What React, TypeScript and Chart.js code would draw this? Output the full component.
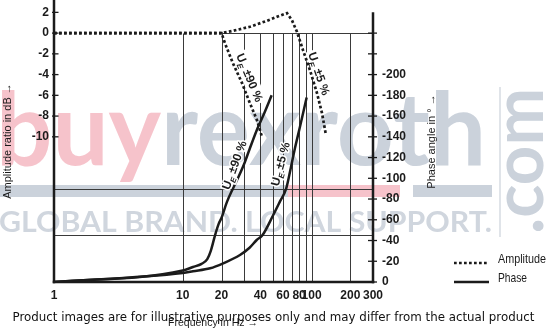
import React, { useEffect, useRef } from "react";
import { Chart, registerables } from "chart.js";

Chart.register(...registerables);

// ---------- data ----------
const freqTickLabels = [1, 10, 20, 40, 60, 80, 100, 200, 300];
const freqGridLines = [10, 20, 30, 40, 50, 60, 70, 80, 90, 100, 200];
const dbTicks = [-10, -8, -6, -4, -2, 0, 2];
const phaseTicks = [0, 20, 40, 60, 80, 100, 120, 140, 160, 180, 200, 220, 240];
const phaseLabelMax = 200;
const phaseGridLines = [45, 90];

// amplitude ratio (dB), U_E ±90 %
const ampFreq90 = [1, 20, 21.3, 24.5, 28.8, 33.2, 37.7, 41.2];
const ampDb90 = [0, 0, -1, -2.9, -4.8, -6.75, -8.4, -10];
// amplitude ratio (dB), U_E ±5 %
const ampFreq5 = [1, 20, 24.5, 33.2, 45.1, 53.9, 64.4, 70.4, 77, 85.8, 97.2, 110.2, 120.5, 129.4];
const ampDb5 = [0, 0, 0.22, 0.61, 1.19, 1.57, 1.93, 1.25, 0.13, -1.64, -3.57, -5.79, -7.71, -9.84];
// phase angle (deg), U_E ±90 %
const phFreq90 = [1, 10, 12, 14, 15.5, 16.5, 17.8, 19, 20, 22, 24.5, 27, 30, 33, 38, 43, 49];
const phDeg90 = [0, 11, 14.5, 17.5, 22, 30, 45, 56, 62, 77, 90, 101, 114, 128, 148, 163, 180];
// phase angle (deg), U_E ±5 %
const phFreq5 = [1, 10, 12, 16.3, 20.6, 27.8, 33, 37.5, 41.5, 50.4, 57, 63.5, 69, 74.3, 81.3, 91.6];
const phDeg5 = [0, 8.7, 10.3, 13.2, 18, 26, 33, 40.5, 45, 64.6, 78, 90, 110, 129, 149.7, 178];

// curve annotations (anchored in data units)
const ampLabels = [
  { f: 33.2, v: -4.28, deg: 67, pct: "90" },
  { f: 115, v: -3.9, deg: 71, pct: "5" },
];
const phaseLabels = [
  { f: 25.0, v: 112.8, deg: -70, pct: "90" },
  { f: 56.9, v: 113.8, deg: -75, pct: "5" },
];

// ---------- styles ----------
const INK = "#1b1b1b";
const GRID = "#3a3a3a";
const SANS = '"Liberation Sans", Arial, "DejaVu Sans", sans-serif';
const WM_FONT = 'Lato, "Open Sans", "DejaVu Sans", sans-serif';
const WM_PINK = "#f6c3cb";
const WM_GRAY = "#cbd2db";
const WM_GRAY2 = "#d0d6de";
const DASH = [2.7, 2.3];

function line(ctx: CanvasRenderingContext2D, x1: number, y1: number, x2: number, y2: number) {
  ctx.beginPath();
  ctx.moveTo(x1, y1);
  ctx.lineTo(x2, y2);
  ctx.stroke();
}

function drawWatermark(ctx: CanvasRenderingContext2D) {
  ctx.save();
  // bands
  ctx.fillStyle = WM_GRAY;
  ctx.fillRect(0, 185, 288, 12);
  ctx.fillStyle = WM_PINK;
  ctx.fillRect(288, 185, 112, 12);
  ctx.fillStyle = WM_GRAY;
  ctx.fillRect(413, 185, 79, 12);
  ctx.textAlign = "left";
  ctx.textBaseline = "alphabetic";
  // buyrexroth
  ctx.font = `bold 102px ${WM_FONT}`;
  const wBuy = ctx.measureText("buy").width;
  const wAll = ctx.measureText("buyrexroth").width;
  ctx.save();
  ctx.translate(-4, 165);
  ctx.scale(490 / wAll, 1);
  ctx.fillStyle = WM_PINK;
  ctx.fillText("buy", 0, 0);
  ctx.fillStyle = WM_GRAY;
  ctx.fillText("rexroth", wBuy, 0);
  ctx.restore();
  // slogan
  ctx.font = `bold 28px ${WM_FONT}`;
  const wS = ctx.measureText("GLOBAL BRAND. LOCAL SUPPORT.").width;
  ctx.save();
  ctx.translate(-1, 232);
  ctx.scale(493 / wS, 1);
  ctx.fillStyle = WM_GRAY2;
  ctx.fillText("GLOBAL BRAND. LOCAL SUPPORT.", 0, 0);
  ctx.restore();
  // separator
  ctx.strokeStyle = "#d6dbe2";
  ctx.lineWidth = 1.5;
  line(ctx, 500, 87, 500, 237);
  // .com vertical
  ctx.font = `bold 70px ${WM_FONT}`;
  const wC = ctx.measureText(".com").width;
  ctx.save();
  ctx.translate(543, 234);
  ctx.rotate(-Math.PI / 2);
  ctx.scale(146 / wC, 1);
  ctx.fillStyle = WM_GRAY;
  ctx.fillText(".com", 0, 0);
  ctx.restore();
  ctx.restore();
}

function drawUE(
  ctx: CanvasRenderingContext2D,
  cx: number,
  cy: number,
  deg: number,
  pct: string,
  mode: "box" | "halo"
) {
  ctx.save();
  ctx.translate(cx, cy);
  ctx.rotate((deg * Math.PI) / 180);
  const big = `bold 12px ${SANS}`;
  const small = `bold italic 8px ${SANS}`;
  const rest = ` \u00b1${pct} %`;
  ctx.font = big;
  const wU = ctx.measureText("U").width;
  const wR = ctx.measureText(rest).width;
  ctx.font = small;
  const wE = ctx.measureText("E").width;
  const total = wU + wE + wR;
  const x0 = -total / 2;
  if (mode === "box") {
    ctx.fillStyle = "#fff";
    ctx.fillRect(x0 - 2, -7, total + 4, 15);
  }
  ctx.textAlign = "left";
  ctx.textBaseline = "alphabetic";
  const parts: [string, string, number, number][] = [
    ["U", big, x0, 4.3],
    ["E", small, x0 + wU, 7.3],
    [rest, big, x0 + wU + wE, 4.3],
  ];
  if (mode === "halo") {
    ctx.strokeStyle = "#fff";
    ctx.lineWidth = 3;
    ctx.lineJoin = "round";
    for (const [t, f, x, y] of parts) {
      ctx.font = f;
      ctx.strokeText(t, x, y);
    }
  }
  ctx.fillStyle = INK;
  for (const [t, f, x, y] of parts) {
    ctx.font = f;
    ctx.fillText(t, x, y);
  }
  ctx.restore();
}

function fitText(ctx: CanvasRenderingContext2D, text: string, x: number, y: number, width: number) {
  const w = ctx.measureText(text).width;
  ctx.save();
  ctx.translate(x, y);
  ctx.scale(Math.min(1, width / w), 1);
  ctx.fillText(text, 0, 0);
  ctx.restore();
}

const decor = {
  id: "decor",
  beforeDraw(chart: any) {
    const ctx: CanvasRenderingContext2D = chart.ctx;
    ctx.save();
    ctx.fillStyle = "#fff";
    ctx.fillRect(0, 0, chart.width, chart.height);
    ctx.restore();
    drawWatermark(ctx);
  },
  beforeDatasetsDraw(chart: any) {
    const ctx: CanvasRenderingContext2D = chart.ctx;
    const { x, y, y2 } = chart.scales;
    const y0 = Math.round(y.getPixelForValue(0)) + 0.5;
    const yb = y.getPixelForValue(y.min);
    ctx.save();
    ctx.strokeStyle = GRID;
    ctx.lineWidth = 1;
    for (const f of freqGridLines) {
      const px = Math.round(x.getPixelForValue(f)) + 0.5;
      line(ctx, px, y0, px, yb);
    }
    line(ctx, x.getPixelForValue(20), y0, x.right, y0);
    for (const p of phaseGridLines) {
      const py = Math.round(y2.getPixelForValue(p)) + 0.5;
      line(ctx, x.left, py, x.right, py);
    }
    for (const l of ampLabels) {
      drawUE(ctx, x.getPixelForValue(l.f), y.getPixelForValue(l.v), l.deg, l.pct, "box");
    }
    // axes
    ctx.strokeStyle = INK;
    ctx.lineWidth = 2.5;
    line(ctx, x.left, 0, x.left, yb + 1.25);
    line(ctx, x.left - 1.25, yb, x.right + 1.25, yb);
    line(ctx, x.right, y2.getPixelForValue(260), x.right, yb + 1.25);
    // tick marks
    ctx.lineWidth = 1.3;
    for (const v of dbTicks) {
      const py = y.getPixelForValue(v);
      line(ctx, x.left - 2, py, x.left + 4.5, py);
    }
    for (const v of phaseTicks) {
      const py = y2.getPixelForValue(v);
      line(ctx, x.right - 5, py, x.right + 4, py);
    }
    ctx.restore();
  },
  afterDatasetsDraw(chart: any) {
    const ctx: CanvasRenderingContext2D = chart.ctx;
    const { x, y2 } = chart.scales;
    ctx.save();
    for (const l of phaseLabels) {
      drawUE(ctx, x.getPixelForValue(l.f), y2.getPixelForValue(l.v), l.deg, l.pct, "halo");
    }
    // legend
    const ds = chart.data.datasets;
    ctx.strokeStyle = INK;
    ctx.lineWidth = ds[0].borderWidth;
    ctx.setLineDash(ds[0].borderDash);
    line(ctx, 454, 263, 489, 263);
    ctx.setLineDash([]);
    ctx.lineWidth = ds[2].borderWidth;
    line(ctx, 454, 282, 489, 282);
    ctx.fillStyle = INK;
    ctx.textAlign = "left";
    ctx.textBaseline = "middle";
    ctx.font = `13px ${SANS}`;
    fitText(ctx, ds[0].label, 498, 259.5, 48);
    fitText(ctx, ds[2].label, 498, 278.5, 29);
    // axis titles
    ctx.font = `11px ${SANS}`;
    ctx.textAlign = "center";
    ctx.save();
    ctx.translate(7.5, 141);
    ctx.rotate(-Math.PI / 2);
    ctx.fillText("Amplitude ratio in dB \u2192", 0, 0);
    ctx.restore();
    ctx.save();
    ctx.translate(432, 141.5);
    ctx.rotate(-Math.PI / 2);
    ctx.fillText("Phase angle in \u00b0 \u2192", 0, 0);
    ctx.restore();
    ctx.textBaseline = "alphabetic";
    ctx.font = `10.5px ${SANS}`;
    ctx.fillText("Frequency in Hz \u2192", 213, 326);
    // footer
    const footer = "Product images are for illustrative purposes only and may differ from the actual product";
    ctx.font = `11px "DejaVu Sans", sans-serif`;
    const w = ctx.measureText(footer).width;
    const size = (11 * 522) / w;
    ctx.font = `${size.toFixed(2)}px "DejaVu Sans", sans-serif`;
    ctx.textAlign = "left";
    ctx.fillStyle = "#111";
    ctx.fillText(footer, 12.5, 320.7);
    ctx.restore();
  },
};

const zeroPad = (s: any) => {
  s.paddingTop = 0;
  s.paddingBottom = 0;
  s.paddingLeft = 0;
  s.paddingRight = 0;
};

const tickFont = { family: SANS, size: 12, weight: "bold" as const };

export default function App() {
  const ref = useRef<HTMLCanvasElement | null>(null);
  useEffect(() => {
    if (!ref.current) return;
    const pts = (fs: number[], vs: number[]) => fs.map((f, i) => ({ x: f, y: vs[i] }));
    const chart = new Chart(ref.current, {
      type: "line",
      data: {
        datasets: [
          {
            label: "Amplitude",
            data: pts(ampFreq90, ampDb90),
            yAxisID: "y",
            borderColor: INK,
            borderWidth: 2.7,
            borderDash: DASH,
            pointRadius: 0,
            tension: 0,
          },
          {
            label: "Amplitude",
            data: pts(ampFreq5, ampDb5),
            yAxisID: "y",
            borderColor: INK,
            borderWidth: 2.7,
            borderDash: DASH,
            pointRadius: 0,
            tension: 0,
          },
          {
            label: "Phase",
            data: pts(phFreq90, phDeg90),
            yAxisID: "y2",
            borderColor: INK,
            borderWidth: 2.5,
            pointRadius: 0,
            cubicInterpolationMode: "monotone",
          },
          {
            label: "Phase",
            data: pts(phFreq5, phDeg5),
            yAxisID: "y2",
            borderColor: INK,
            borderWidth: 2.5,
            pointRadius: 0,
            cubicInterpolationMode: "monotone",
          },
        ],
      },
      options: {
        animation: false,
        responsive: false,
        devicePixelRatio: 1,
        layout: { padding: { top: 2, left: 0, right: 0, bottom: 0 } },
        plugins: { legend: { display: false }, tooltip: { enabled: false } },
        scales: {
          x: {
            type: "logarithmic",
            min: 1,
            max: 300,
            grid: { display: false, drawTicks: false },
            border: { display: false },
            afterBuildTicks: (s: any) => {
              s.ticks = freqTickLabels.map((v) => ({ value: v }));
            },
            afterFit: (s: any) => {
              s.height = 47;
              zeroPad(s);
            },
            ticks: {
              autoSkip: false,
              maxRotation: 0,
              minRotation: 0,
              padding: 6,
              font: tickFont,
              color: INK,
              callback: (v: any) => String(v),
            },
          },
          y: {
            type: "linear",
            position: "left",
            min: -24,
            max: 3,
            grid: { display: false, drawTicks: false },
            border: { display: false },
            afterBuildTicks: (s: any) => {
              s.ticks = dbTicks.map((v) => ({ value: v }));
            },
            afterFit: (s: any) => {
              s.width = 54;
              zeroPad(s);
            },
            ticks: {
              padding: 5,
              font: tickFont,
              color: INK,
              callback: (v: any) => (v < 0 ? "-" + Math.abs(v) : String(v)),
            },
          },
          y2: {
            type: "linear",
            position: "right",
            min: 0,
            max: 270,
            grid: { display: false, drawTicks: false },
            border: { display: false },
            afterBuildTicks: (s: any) => {
              s.ticks = phaseTicks.map((v) => ({ value: v }));
            },
            afterFit: (s: any) => {
              s.width = 174;
              zeroPad(s);
            },
            ticks: {
              padding: 9,
              font: tickFont,
              color: INK,
              callback: (v: any) => (v === 0 ? "0" : v > phaseLabelMax ? "" : "-" + v),
            },
          },
        },
      },
      plugins: [decor],
    } as any);
    return () => chart.destroy();
  }, []);
  return (
    <div style={{ position: "fixed", left: 0, top: 0, width: 547, height: 329, background: "#fff" }}>
      <canvas ref={ref} width={547} height={329} style={{ display: "block", width: 547, height: 329 }} />
    </div>
  );
}
